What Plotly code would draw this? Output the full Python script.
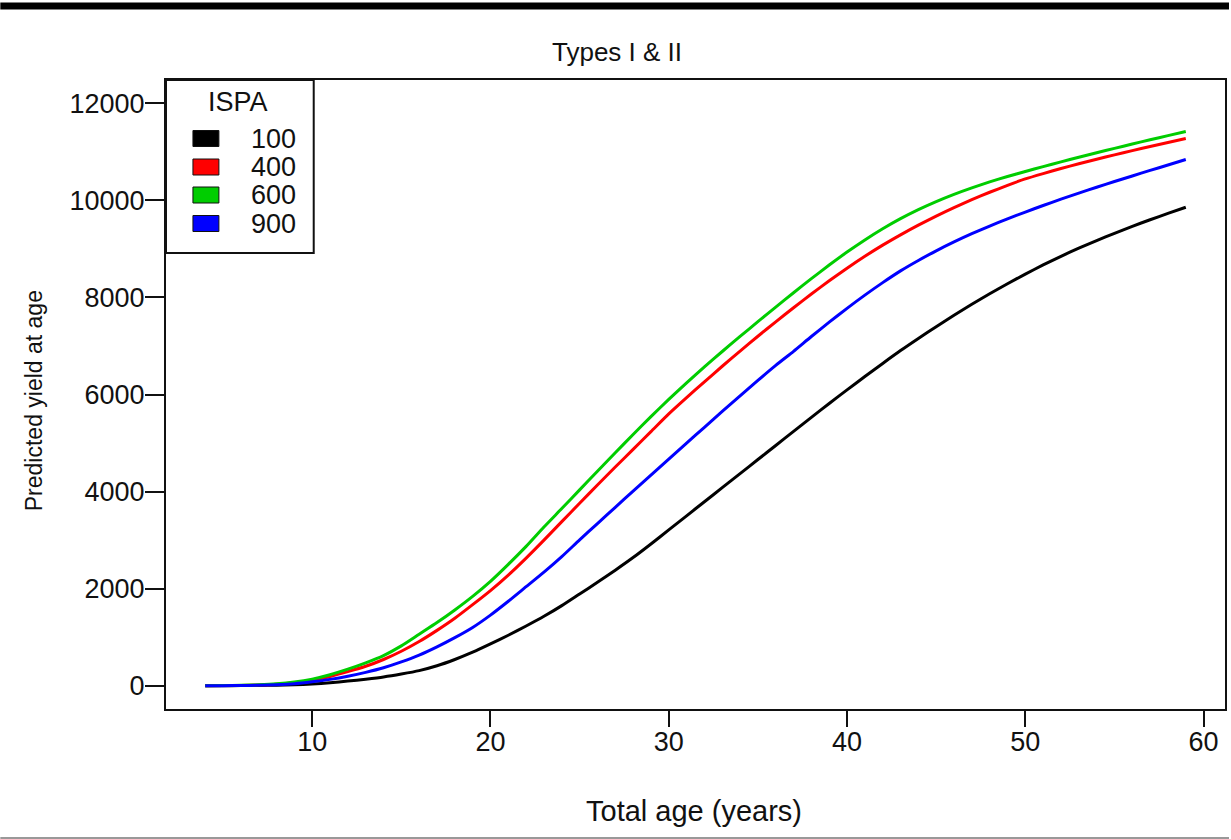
import plotly.graph_objects as go

# ---------------- data ----------------
ages = list(range(4, 60))

yield_100 = [0, 0, 2, 5, 10, 20, 35, 60, 95, 135,
             180, 240, 310, 410, 540, 690, 860, 1040, 1230, 1430,
             1650, 1890, 2130, 2380, 2640, 2920, 3210, 3500, 3790, 4080,
             4370, 4660, 4950, 5240, 5530, 5815, 6095, 6370, 6640, 6905,
             7155, 7398, 7633, 7858, 8075, 8283, 8480, 8670, 8848, 9015,
             9172, 9322, 9465, 9601, 9731, 9859]

yield_400 = [0, 2, 6, 14, 30, 60, 110, 190, 290, 400,
             540, 710, 910, 1140, 1390, 1670, 1960, 2280, 2630, 3000,
             3380, 3760, 4135, 4505, 4870, 5235, 5600, 5935, 6262, 6582,
             6895, 7200, 7498, 7788, 8070, 8342, 8602, 8848, 9078, 9290,
             9490, 9677, 9852, 10015, 10167, 10309, 10442, 10552, 10656, 10754,
             10848, 10938, 11025, 11109, 11191, 11273]

yield_600 = [0, 3, 8, 18, 38, 75, 135, 225, 340, 470,
             620, 820, 1060, 1300, 1560, 1840, 2150, 2500, 2870, 3270,
             3650, 4035, 4420, 4800, 5175, 5545, 5900, 6240, 6568, 6886,
             7196, 7501, 7801, 8097, 8387, 8667, 8935, 9185, 9415, 9623,
             9809, 9975, 10124, 10258, 10380, 10492, 10596, 10696, 10793, 10888,
             10981, 11072, 11161, 11248, 11334, 11419]

yield_900 = [0, 1, 4, 10, 20, 40, 80, 130, 195, 275,
             370, 490, 630, 800, 990, 1200, 1455, 1740, 2040, 2340,
             2660, 3005, 3340, 3675, 4010, 4340, 4670, 5000, 5325, 5650,
             5970, 6290, 6600, 6890, 7195, 7490, 7775, 8047, 8305, 8547,
             8762, 8960, 9143, 9313, 9471, 9619, 9759, 9894, 10024, 10149,
             10270, 10388, 10503, 10617, 10729, 10841]

ispa_labels = ["100", "400", "600", "900"]
series_colors = ["#000000", "#FF0000", "#00CD00", "#0000FF"]
x_ticks = [10, 20, 30, 40, 50, 60]
y_ticks = [0, 2000, 4000, 6000, 8000, 10000, 12000]

title_text = "Types I & II"
x_title = "Total age (years)"
y_title = "Predicted yield at age"
legend_title = "ISPA"

# ---------------- layout geometry ----------------
W, H = 1231, 839
ML, MR, MT, MB = 166, 4, 80, 130
PW = W - ML - MR
PH = H - MT - MB


def px_x(p):
    return (p - ML) / PW


def px_y(p):
    return (H - MB - p) / PH


FONT = "Liberation Sans, Arial, sans-serif"
TICK_SIZE = 27

fig = go.Figure()
for vals, lab, col in zip([yield_100, yield_400, yield_600, yield_900], ispa_labels, series_colors):
    fig.add_trace(go.Scatter(x=ages, y=vals, mode="lines", name=lab,
                             line=dict(color=col, width=3, shape="spline", smoothing=0.6),
                             showlegend=False))

axis_common = dict(showline=True, mirror=True, linecolor="#111111", linewidth=2,
                   ticks="outside", tickcolor="#111111", tickwidth=2,
                   showgrid=False, zeroline=False,
                   tickfont=dict(family=FONT, size=TICK_SIZE, color="#111111"))

fig.update_xaxes(range=[1.8, 61.2], tickvals=x_ticks, ticktext=[str(v) for v in x_ticks],
                 ticklen=16, ticklabelstandoff=-8, **axis_common)
fig.update_yaxes(range=[-480, 12480], tickvals=y_ticks, ticktext=[str(v) for v in y_ticks],
                 ticklen=19, ticklabelstandoff=-5, **axis_common)

shapes = []
annotations = []

# top black bar and bottom grey rule
shapes.append(dict(type="rect", xref="paper", yref="paper",
                   x0=px_x(0), x1=px_x(W), y0=px_y(9.5), y1=px_y(2.5),
                   fillcolor="#000000", line=dict(width=0), layer="above"))
shapes.append(dict(type="line", xref="paper", yref="paper",
                   x0=px_x(0), x1=px_x(W), y0=px_y(838), y1=px_y(838),
                   line=dict(color="#999999", width=2), layer="above"))

# legend box
shapes.append(dict(type="rect", xref="paper", yref="paper",
                   x0=px_x(166), x1=px_x(314), y0=px_y(253), y1=px_y(80),
                   fillcolor="white", line=dict(color="#111111", width=2), layer="above"))
annotations.append(dict(text=legend_title, xref="paper", yref="paper",
                        x=px_x(238), y=px_y(102), xanchor="center", yanchor="middle",
                        showarrow=False, font=dict(family=FONT, size=TICK_SIZE, color="#111111")))
row_y = [138.5, 167, 195, 223.5]
for lab, col, ry in zip(ispa_labels, series_colors, row_y):
    shapes.append(dict(type="rect", xref="paper", yref="paper",
                       x0=px_x(193), x1=px_x(219), y0=px_y(ry + 8), y1=px_y(ry - 8),
                       fillcolor=col, line=dict(color="#111111", width=1), layer="above"))
    annotations.append(dict(text=lab, xref="paper", yref="paper",
                            x=px_x(298), y=px_y(ry), xanchor="right", yanchor="middle",
                            showarrow=False, font=dict(family=FONT, size=TICK_SIZE, color="#111111")))

# titles
annotations.append(dict(text=title_text, xref="paper", yref="paper",
                        x=px_x(618), y=px_y(52), xanchor="center", yanchor="middle",
                        showarrow=False, font=dict(family=FONT, size=26, color="#111111")))
annotations.append(dict(text=x_title, xref="paper", yref="paper",
                        x=px_x(695), y=px_y(811), xanchor="center", yanchor="middle",
                        showarrow=False, font=dict(family=FONT, size=29, color="#111111")))
annotations.append(dict(text=y_title, xref="paper", yref="paper",
                        x=px_x(34), y=px_y(401), xanchor="center", yanchor="middle",
                        textangle=-90,
                        showarrow=False, font=dict(family=FONT, size=23, color="#111111")))

fig.update_layout(width=W, height=H, margin=dict(l=ML, r=MR, t=MT, b=MB),
                  paper_bgcolor="white", plot_bgcolor="white",
                  shapes=shapes, annotations=annotations, showlegend=False,
                  font=dict(family=FONT, color="#111111"))

fig.write_html("out.html")
